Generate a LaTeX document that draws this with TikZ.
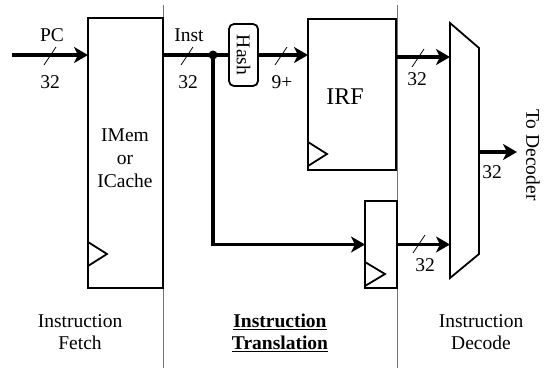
\documentclass[tikz,border=0pt]{standalone}
\usepackage{fontspec}
\setmainfont{Liberation Serif}
\usetikzlibrary{arrows.meta,calc}
\begin{document}
\begin{tikzpicture}[x=1pt,y=-1pt,
  font=\fontsize{19.5}{22}\selectfont,
  box/.style={draw,line width=1.8pt,fill=white,inner sep=0pt,outer sep=0pt,anchor=north west},
  bus/.style={line width=3.8pt,-{Stealth[length=14pt,width=16pt,inset=4pt]}},
  busplain/.style={line width=3.8pt},
  divider/.style={draw=black!55,line width=0.9pt},
  slashmark/.style={line width=0.8pt},
  clk/.style={line width=1.8pt},
  lbl/.style={inner sep=0pt,align=center}]
\useasboundingbox (0,0) rectangle (554,368);
% stage dividers
\coordinate (d1t) at (163,5); \coordinate (d1b) at (163,368);
\coordinate (d2t) at (397,5); \coordinate (d2b) at (397,368);
\draw[divider] (d1t) -- (d1b);
\draw[divider] (d2t) -- (d2b);
% blocks
\node[box,minimum width=75,minimum height=270] (imem) at (88,18) {};
\node[lbl] (imemlbl) at (125,158) {IMem\\[1pt]or\\[1pt]ICache};
\draw[clk] ($(imem.south west)+(0,-46)$) -- ($(imem.south west)+(19,-34)$) -- ($(imem.south west)+(0,-22)$);
\node[box,minimum width=88,minimum height=151] (irf) at (308,19) {};
\node[lbl,font=\fontsize{24}{26}\selectfont] (irflbl) at (345,97) {IRF};
\draw[clk] ($(irf.south west)+(0,-28)$) -- ($(irf.south west)+(19,-16)$) -- ($(irf.south west)+(0,-4)$);
\node[box,minimum width=32,minimum height=87] (reg) at (365,201) {};
\draw[clk] ($(reg.south west)+(0,-26)$) -- ($(reg.south west)+(20,-14)$) -- ($(reg.south west)+(0,-2)$);
\node[draw,line width=1.8pt,fill=white,rounded corners=5pt,minimum width=29,minimum height=62,inner sep=0pt,outer sep=0pt] (hash) at (243.5,55) {\rotatebox{-90}{Hash}};
% mux
\node[minimum width=29,minimum height=255,inner sep=0pt,outer sep=0pt] (mux) at (464.5,150.5) {};
\draw[line width=1.8pt,fill=white] (mux.north west) -- ($(mux.north east)+(0,25)$) -- ($(mux.south east)+(0,-24)$) -- (mux.south west) -- cycle;
% connectors
\coordinate (pcin) at (12,55);
\draw[bus] (pcin) -- (imem.west |- pcin);
\coordinate (split) at (213,55);
\draw[busplain] (imem.east |- hash.west) -- (hash.west);
\fill (split) circle (4.5);
\draw[bus] (hash.east) -- (irf.west |- hash.east);
\coordinate (irfout) at ($(irf.north east)+(0,38)$);
\draw[bus] (irfout) -- (mux.west |- irfout);
\draw[bus] (split) |- (reg.west);
\draw[bus] (reg.east) -- (mux.west |- reg.east);
\coordinate (muxout) at (517,152);
\draw[bus] (mux.east |- muxout) -- (muxout);
% bus-width slashes
\foreach \p in {(50,56),(187,56),(281,56),(418,58),(419,244)}
  \draw[slashmark] \p ++(-6,9) -- ++(12,-18);
% labels
\node[lbl] (pclbl) at (52,35) {PC};
\node[lbl] (pcw) at (50,82) {32};
\node[lbl] (instlbl) at (189,35) {Inst};
\node[lbl] (instw) at (188,82) {32};
\node[lbl] (hashw) at (282,82) {9+};
\node[lbl] (irfw) at (417,79) {32};
\node[lbl] (regw) at (425,265) {32};
\node[lbl] (muxw) at (492,172) {32};
\node[lbl,rotate=-90] (todec) at (533,155) {To Decoder};
\node[lbl] (fetch) at (80,332) {Instruction\\Fetch};
\node[lbl,font=\fontsize{19.5}{22}\selectfont\bfseries] (trans) at (280,333) {\underline{Instruction}\\\underline{Translation}};
\node[lbl] (decode) at (481,332) {Instruction\\Decode};
\end{tikzpicture}
\end{document}
